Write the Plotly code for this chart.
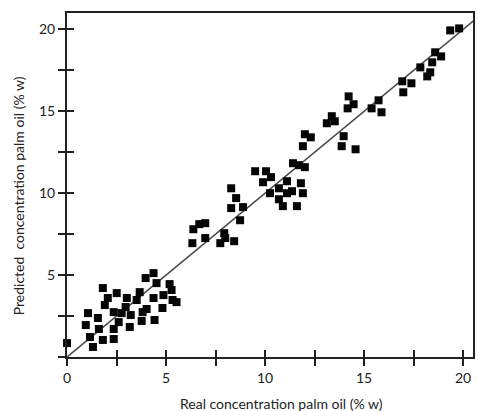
import plotly.graph_objects as go

# Real vs predicted palm oil concentration (% w)
real = [
    0.00, 0.95, 1.06, 1.16, 1.31, 1.56, 1.61, 1.81, 1.81, 2.06, 1.91, 2.51,
    2.36, 2.36, 2.36, 2.61, 2.76, 2.96, 3.17, 3.22, 3.52, 3.67, 3.82, 4.02,
    3.77, 3.97, 4.37, 4.52, 4.37, 4.42, 4.82, 4.87, 5.18, 5.28, 5.33, 5.53,
    3.02,
    8.29, 8.54, 8.29, 8.89, 8.74, 6.38, 6.68, 6.98, 6.98, 6.33, 7.94, 7.99,
    7.74, 8.44,
    9.50, 10.05, 10.30, 9.90, 10.25, 10.70, 11.11, 11.36, 11.11, 11.81, 11.91,
    10.70, 10.90, 11.61, 11.41, 11.71, 12.01, 12.01, 12.31, 11.91,
    13.12, 13.37, 13.52, 13.97, 13.87, 14.57, 14.22, 14.47, 14.17, 15.38,
    15.73, 15.88, 16.93, 17.39, 16.98, 17.84, 18.19, 18.34, 18.44, 18.59,
    18.89, 19.35, 19.80,
]
predicted = [
    0.85, 1.95, 2.68, 1.22, 0.61, 2.38, 1.71, 1.04, 4.21, 3.60, 3.17, 3.90,
    2.74, 1.71, 1.10, 2.13, 2.68, 3.05, 1.83, 2.56, 3.48, 3.96, 2.74, 2.93,
    2.20, 4.82, 5.12, 4.51, 3.60, 2.26, 2.99, 3.78, 4.45, 4.09, 3.48, 3.35,
    3.60,
    10.30, 9.70, 9.09, 9.15, 8.35, 7.80, 8.11, 8.17, 7.26, 6.95, 7.56, 7.26,
    6.95, 7.07,
    11.34, 11.34, 10.98, 10.67, 10.00, 10.30, 10.73, 10.12, 10.00, 10.61,
    10.00, 9.63, 9.21, 9.21, 11.83, 11.71, 11.59, 13.60, 13.41, 12.87,
    14.27, 14.70, 14.39, 13.48, 12.87, 12.68, 15.91, 15.43, 15.18, 15.18,
    15.67, 14.94, 16.83, 16.71, 16.16, 17.68, 17.13, 17.38, 17.99, 18.60,
    18.35, 19.94, 20.06,
]

ideal_line = [0, 21]
x_ticks = [0, 5, 10, 15, 20]
y_ticks = [5, 10, 15, 20]
x_range = [0, 20.5]
y_range = [0, 21]

FONT = "Lato"
INK = "#222222"

fig = go.Figure()

# companion trace that carries the inward half of the crossing ticks
fig.add_trace(go.Scatter(
    x=[1], y=[1], xaxis="x2", yaxis="y2", mode="markers",
    marker=dict(opacity=0, size=1), hoverinfo="skip", showlegend=False,
))

fig.add_trace(go.Scatter(
    x=ideal_line, y=ideal_line, mode="lines",
    line=dict(color="#4a4a4a", width=1.6),
    hoverinfo="skip", showlegend=False,
))

fig.add_trace(go.Scatter(
    x=real, y=predicted, mode="markers", cliponaxis=False,
    marker=dict(symbol="square", size=8, color="#050505",
                line=dict(width=0)),
    showlegend=False,
))

tick_common = dict(ticklen=7, tickwidth=2, tickcolor="#222222")
minor_common = dict(dtick=2.5, ticklen=7, tickwidth=2, tickcolor="#222222")

fig.update_layout(
    width=478, height=411,
    margin=dict(l=67, r=3, t=13, b=54),
    paper_bgcolor="white", plot_bgcolor="white",
    font=dict(family=FONT, size=14, color=INK),
    xaxis=dict(
        range=x_range, tickvals=x_ticks, ticks="outside", **tick_common,
        minor=dict(ticks="outside", tick0=0, **minor_common),
        showline=True, linecolor="#222222", linewidth=2, mirror=True,
        showgrid=False, zeroline=False,
        tickfont=dict(family=FONT, size=14, color=INK),
    ),
    yaxis=dict(
        range=y_range, tickvals=y_ticks, ticks="outside", **tick_common,
        minor=dict(ticks="outside", tick0=0, **minor_common),
        showline=True, linecolor="#222222", linewidth=2, mirror=True,
        showgrid=False, zeroline=False,
        tickfont=dict(family=FONT, size=14, color=INK),
    ),
    xaxis2=dict(
        range=x_range, overlaying="x", anchor="y", side="bottom",
        tickvals=x_ticks, ticks="inside", **tick_common,
        minor=dict(ticks="inside", tick0=0, **minor_common),
        showticklabels=False, showline=False, showgrid=False, zeroline=False,
    ),
    yaxis2=dict(
        range=y_range, overlaying="y", anchor="x", side="left",
        tickvals=y_ticks, ticks="inside", **tick_common,
        minor=dict(ticks="inside", tick0=0, **minor_common),
        showticklabels=False, showline=False, showgrid=False, zeroline=False,
    ),
    annotations=[
        dict(text="Real concentration palm oil (% w)", xref="paper",
             yref="paper", x=0.529, y=-0.134, xanchor="center",
             yanchor="middle", showarrow=False,
             font=dict(family=FONT, size=14, color=INK)),
        dict(text="Predicted  concentration palm oil (% w)", xref="paper",
             yref="paper", x=-0.12, y=0.468, xanchor="center",
             yanchor="middle", textangle=-90, showarrow=False,
             font=dict(family=FONT, size=14, color=INK)),
    ],
)

fig.write_html("out.html")
